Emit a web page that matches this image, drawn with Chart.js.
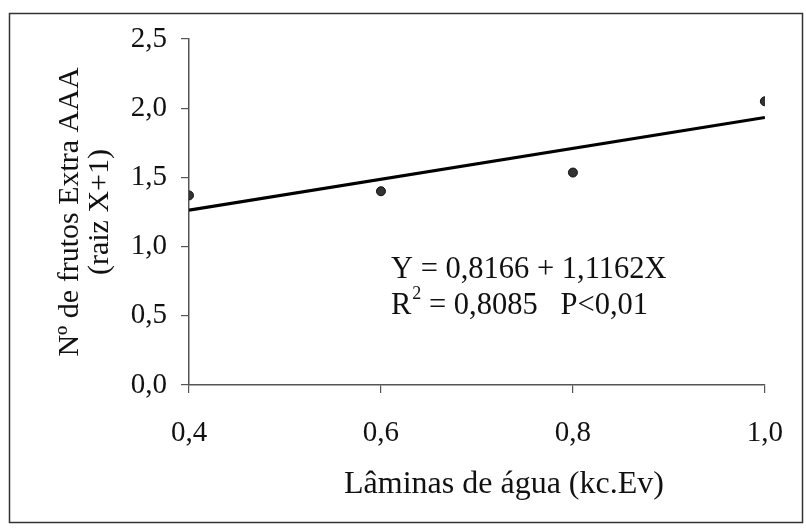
<!DOCTYPE html>
<html>
<head>
<meta charset="utf-8">
<script src="https://cdn.jsdelivr.net/npm/chart.js@4.4.1/dist/chart.umd.min.js"></script>
<style>
html,body{margin:0;padding:0;background:#fff;}
#wrap{width:806px;height:528px;position:relative;}
</style>
</head>
<body>
<div id="wrap"><canvas id="c" width="806" height="528"></canvas></div>
<script>
// Data
const xLevels = [0.4, 0.6, 0.8, 1.0];
const observed = [1.37, 1.40, 1.535, 2.05];
const fitX = [0.4, 1.0];
const fitY = [1.263, 1.933];
const xTicks = [0.4, 0.6, 0.8, 1.0];
const yTicks = [0.0, 0.5, 1.0, 1.5, 2.0, 2.5];
const yTitle = ['Nº de frutos Extra AAA', '(raiz X+1)'];
const xTitle = 'Lâminas de água (kc.Ev)';
const eqLine1 = 'Y = 0,8166 + 1,1162X';
const eqLine2a = 'R';
const eqLine2sup = '2';
const eqLine2b = ' = 0,8085   P<0,01';

const FONT = "'Liberation Serif', 'Times New Roman', serif";
const fmt = v => Number(v).toFixed(1).replace('.', ',');

const framePlugin = {
  id: 'frame',
  beforeDraw(chart) {
    const ctx = chart.ctx;
    ctx.save();
    ctx.fillStyle = '#fff';
    ctx.fillRect(0, 0, chart.width, chart.height);
    ctx.strokeStyle = '#333';
    ctx.lineWidth = 1.5;
    ctx.strokeRect(9.5, 13.5, 793, 509);
    ctx.restore();
  },
  afterDraw(chart) {
    const ctx = chart.ctx;
    ctx.save();
    ctx.fillStyle = '#111';
    ctx.textBaseline = 'middle';
    // x axis title
    ctx.font = '32px ' + FONT;
    ctx.textAlign = 'center';
    ctx.fillText(xTitle, 504, 485);
    // equation
    ctx.textAlign = 'left';
    ctx.font = '30.5px ' + FONT;
    const x0 = 391;
    ctx.fillText(eqLine1, x0, 270);
    ctx.fillText(eqLine2a, x0, 306);
    const w = ctx.measureText(eqLine2a).width;
    ctx.font = '18px ' + FONT;
    ctx.fillText(eqLine2sup, x0 + w + 1, 294);
    const w2 = ctx.measureText(eqLine2sup).width;
    ctx.font = '30.5px ' + FONT;
    ctx.fillText(eqLine2b, x0 + w + w2 + 1, 306);
    ctx.restore();
  }
};

new Chart(document.getElementById('c'), {
  type: 'scatter',
  data: {
    datasets: [
      {
        type: 'line',
        data: fitX.map((x, i) => ({x, y: fitY[i]})),
        borderColor: '#000',
        borderWidth: 3.2,
        pointRadius: 0,
        fill: false,
        order: 2
      },
      {
        data: xLevels.map((x, i) => ({x, y: observed[i]})),
        backgroundColor: '#333',
        borderColor: '#111',
        borderWidth: 1,
        pointRadius: 4.5,
        order: 1
      }
    ]
  },
  options: {
    responsive: false,
    animation: false,
    devicePixelRatio: 1,
    layout: { padding: { top: 39, right: 38, left: 0, bottom: 0 } },
    plugins: { legend: { display: false }, tooltip: { enabled: false } },
    scales: {
      x: {
        type: 'linear',
        min: 0.4, max: 1.0,
        afterBuildTicks(s) { s.ticks = xTicks.map(v => ({value: v})); },
        afterFit(s) { s.height = 143; },
        border: { display: true, color: '#555', width: 1.5 },
        grid: { display: true, drawOnChartArea: false, drawTicks: true, tickLength: 8, color: '#555', lineWidth: 1.2 },
        ticks: { color: '#111', padding: 23, font: { family: FONT, size: 29 }, callback: v => fmt(v), maxRotation: 0 },
        title: { display: false }
      },
      y: {
        type: 'linear',
        min: 0, max: 2.5,
        afterBuildTicks(s) { s.ticks = yTicks.map(v => ({value: v})); },
        afterFit(s) { s.width = 189; },
        border: { display: true, color: '#555', width: 1.5 },
        grid: { display: true, drawOnChartArea: false, drawTicks: true, tickLength: 8, color: '#555', lineWidth: 1.2 },
        ticks: { color: '#111', padding: 14, font: { family: FONT, size: 29 }, callback: v => fmt(v) },
        title: {
          display: true,
          text: yTitle,
          color: '#111',
          font: { family: FONT, size: 30, lineHeight: '30px' },
          padding: { top: 55, bottom: 0 }
        }
      }
    }
  },
  plugins: [framePlugin]
});
</script>
</body>
</html>
